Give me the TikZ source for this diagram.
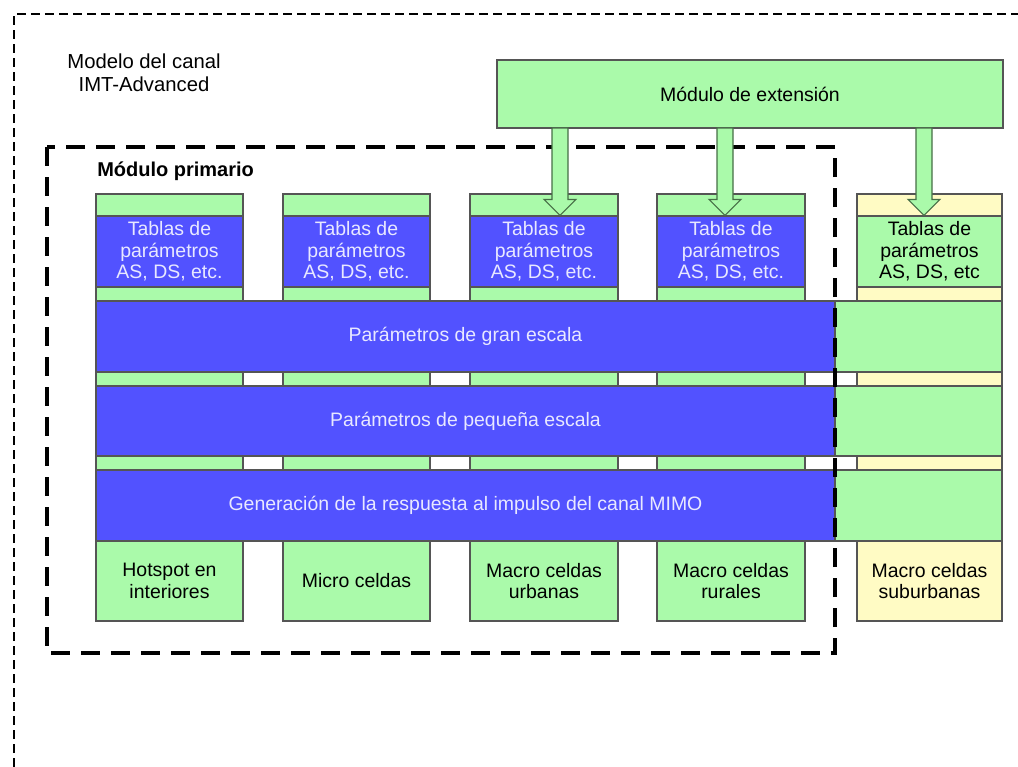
\documentclass[tikz,border=0pt]{standalone}
\usepackage{fontspec}
\setmainfont{Liberation Sans}
\usetikzlibrary{calc}

\definecolor{cblue}{RGB}{82,82,255}
\definecolor{cgreen}{RGB}{170,250,170}
\definecolor{cyellow}{RGB}{255,251,196}
\definecolor{cedge}{RGB}{85,85,85}
\definecolor{ctext}{RGB}{232,232,255}
\definecolor{arrowedge}{RGB}{70,110,70}

\tikzset{
  % box={x1}{y1}{x2}{y2}: rectangle between two corners, in pixel units
  box/.style n args={4}{at={({(#1+#3)/2},{(#2+#4)/2})},
    minimum width={(#3-#1)*0.75pt}, minimum height={(#4-#2)*0.75pt}},
  cell/.style={rectangle, draw=cedge, line width=0.8pt, inner sep=0pt, align=center,
    font=\fontsize{14.6pt}{16pt}\selectfont},
  bluecell/.style={cell, fill=cblue, text=ctext},
  greencell/.style={cell, fill=cgreen},
  yellowcell/.style={cell, fill=cyellow},
  outerdash/.style={line width=1.3pt, dash pattern=on 6.5pt off 4pt},
  innerdash/.style={line width=3.2pt, dash pattern=on 14pt off 8.5pt},
  blockarr/.style={draw=arrowedge, line width=0.8pt, fill=cgreen, line join=miter},
  lbl/.style={inner sep=0pt, align=center}
}

% block arrow from #1 down to #2 (shaft 16px, head 32px x 16px)
\newcommand\blockarrow[2]{%
  \draw[blockarr] let \p1=(#1), \p2=(#2) in
    (\x1-6pt,\y1) -- (\x1-6pt,\y2+12pt) -- (\x1-12pt,\y2+12pt) -- (\x2,\y2)
    -- (\x1+12pt,\y2+12pt) -- (\x1+6pt,\y2+12pt) -- (\x1+6pt,\y1) -- cycle;}

\begin{document}
\begin{tikzpicture}[x=0.75pt,y=-0.75pt]
\useasboundingbox (0,0) rectangle (1018,767);

% outer model frame (open to the right and bottom)
\draw[outerdash] (14,767) -- (14,14) -- (1018,14);

\node[lbl, font=\fontsize{15.2pt}{17pt}\selectfont] (title) at (144,73)
  {Modelo del canal\\IMT-Advanced};

% extension module
\node[greencell, box={497}{60}{1003}{128}] (ext) {Módulo de extensión};

% scenario columns of the primary module
\foreach \i/\xa/\xb in {1/96/243, 2/283/430, 3/470/618, 4/657/805} {
  \node[greencell, box={\xa}{194}{\xb}{216}] (top\i) {};
  \node[bluecell, box={\xa}{216}{\xb}{287}] (tab\i) {Tablas de\\parámetros\\AS, DS, etc.};
  \node[greencell, box={\xa}{287}{\xb}{301}] (sa\i) {};
  \node[greencell, box={\xa}{372}{\xb}{386}] (sb\i) {};
  \node[greencell, box={\xa}{456}{\xb}{470}] (sc\i) {};
}

% extension column
\node[yellowcell, box={857}{194}{1002}{216}] (top5) {};
\node[greencell, box={857}{216}{1002}{287}] (tab5) {Tablas de\\parámetros\\AS, DS, etc};
\node[yellowcell, box={857}{287}{1002}{301}] (sa5) {};
\node[yellowcell, box={857}{372}{1002}{386}] (sb5) {};
\node[yellowcell, box={857}{456}{1002}{470}] (sc5) {};

% processing stages
\foreach \n/\ya/\yb in {large/301/372, small/386/456, mimo/470/541} {
  \node[greencell, box={835}{\ya}{1002}{\yb}] (\n x) {};
}
\node[bluecell, box={96}{301}{835}{372}] (large) {Parámetros de gran escala};
\node[bluecell, box={96}{386}{835}{456}] (small) {Parámetros de pequeña escala};
\node[bluecell, box={96}{470}{835}{541}] (mimo) {Generación de la respuesta al impulso del canal MIMO};

% scenarios
\node[greencell, box={96}{541}{243}{621}] (sc1n) {Hotspot en\\interiores};
\node[greencell, box={283}{541}{430}{621}] (sc2n) {Micro celdas};
\node[greencell, box={470}{541}{618}{621}] (sc3n) {Macro celdas\\urbanas};
\node[greencell, box={657}{541}{805}{621}] (sc4n) {Macro celdas\\rurales};
\node[yellowcell, box={857}{541}{1002}{621}] (sc5n) {Macro celdas\\suburbanas};

% primary module frame
\draw[innerdash] (47,147) rectangle (835,653);
\node[lbl, anchor=west, font=\fontsize{15pt}{17pt}\selectfont\bfseries] (prim) at (97,171)
  {Módulo primario};

% extension arrows
\coordinate (e3) at (560,128);
\coordinate (e4) at (725,128);
\coordinate (e5) at (924,128);
\blockarrow{e3}{e3 |- tab3.north}
\blockarrow{e4}{e4 |- tab4.north}
\blockarrow{e5}{e5 |- tab5.north}

\end{tikzpicture}
\end{document}
